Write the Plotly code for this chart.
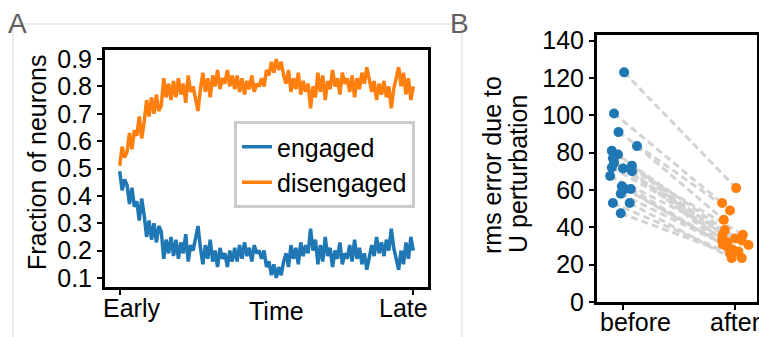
import plotly.graph_objects as go

# ---------------- Panel A data ----------------
engaged = [
    0.49, 0.42, 0.46,
    0.44, 0.37, 0.43, 0.36,
    0.38, 0.31, 0.39,
    0.33, 0.25, 0.31, 0.24, 0.30, 0.23, 0.29,
    0.27, 0.17, 0.24, 0.19,
    0.25, 0.18, 0.24, 0.17, 0.23, 0.19, 0.26, 0.16, 0.22, 0.20, 0.25, 0.29,
    0.21, 0.15, 0.22, 0.17, 0.24, 0.16, 0.20, 0.14, 0.21, 0.17, 0.19, 0.14, 0.20, 0.16,
    0.21, 0.16, 0.22, 0.17, 0.23, 0.18, 0.21, 0.16, 0.22, 0.19, 0.20,
    0.17, 0.20, 0.14, 0.16, 0.11, 0.15, 0.10, 0.14, 0.11, 0.16,
    0.19, 0.14, 0.22, 0.17, 0.21, 0.15, 0.23, 0.18, 0.22, 0.19, 0.28, 0.20,
    0.24, 0.15, 0.22, 0.16, 0.25, 0.18, 0.21, 0.14, 0.20, 0.17, 0.23, 0.15, 0.19, 0.17,
    0.22, 0.16, 0.24, 0.17, 0.21, 0.15, 0.19, 0.13, 0.17,
    0.22, 0.18, 0.25, 0.19, 0.23, 0.18, 0.24, 0.20, 0.28, 0.21,
    0.17, 0.13, 0.20, 0.15, 0.23, 0.17, 0.25, 0.20,
]
disengaged = [
    0.51, 0.58, 0.54,
    0.56, 0.63, 0.57, 0.64,
    0.62, 0.69, 0.61,
    0.67, 0.75, 0.69, 0.76, 0.70, 0.77, 0.71,
    0.73, 0.83, 0.76, 0.81,
    0.75, 0.82, 0.76, 0.83, 0.77, 0.81, 0.74, 0.84, 0.78, 0.80, 0.75, 0.71,
    0.79, 0.85, 0.78, 0.83, 0.76, 0.84, 0.80, 0.86, 0.79, 0.83, 0.81, 0.86, 0.80, 0.84,
    0.79, 0.84, 0.78, 0.83, 0.77, 0.82, 0.79, 0.84, 0.78, 0.81, 0.80,
    0.83, 0.80, 0.86, 0.84, 0.89, 0.85, 0.90, 0.86, 0.89, 0.84,
    0.81, 0.86, 0.78, 0.83, 0.79, 0.85, 0.77, 0.82, 0.78, 0.81, 0.72, 0.80,
    0.76, 0.85, 0.78, 0.84, 0.75, 0.82, 0.79, 0.86, 0.80, 0.83, 0.77, 0.85, 0.81, 0.83,
    0.78, 0.84, 0.76, 0.83, 0.79, 0.85, 0.81, 0.87, 0.83,
    0.78, 0.82, 0.75, 0.81, 0.77, 0.82, 0.76, 0.80, 0.72, 0.79,
    0.83, 0.87, 0.80, 0.85, 0.77, 0.83, 0.75, 0.80,
]
time_idx = list(range(len(engaged)))
a_ytick_vals = [0.1, 0.2, 0.3, 0.4, 0.5, 0.6, 0.7, 0.8, 0.9]
a_xlabels = ["Early", "Time", "Late"]
a_xlabel_pos = [5, 64, 116]

# ---------------- Panel B data ----------------
before_vals = [123, 101, 91, 83.5, 81, 79, 77, 74.5, 73, 72,
               71.5, 70, 67.5, 62, 60.5, 60.5, 58, 53, 53, 47.5]
before_x = [0.01, -0.08, -0.04, 0.125, -0.10, -0.045, -0.09, -0.08, 0.08, -0.10,
            0.0, 0.08, -0.115, -0.01, 0.02, 0.07, -0.02, -0.09, 0.06, -0.02]
after_vals = [61, 53, 49, 44, 38.5, 36, 36, 34, 33, 33,
              32, 31, 30.5, 30, 29.5, 28, 27, 26, 23.5, 23.5]
after_x = [1.01, 0.885, 0.955, 0.90, 0.91, 0.89, 1.07, 1.00, 0.885, 1.06,
           0.93, 0.89, 1.12, 0.92, 0.94, 0.98, 1.03, 0.955, 0.97, 1.06]
b_ytick_vals = [0, 20, 40, 60, 80, 100, 120, 140]
b_xlabels = ["before", "after"]
b_xlabel_pos = [0.116, 1.0]

BLUE = "#1f77b4"
ORANGE = "#ff7f0e"
FONT = "Liberation Sans, Arial, sans-serif"
W, H = 759, 337


def px(x):
    return x / W


def py(y):
    return 1 - y / H


fig = go.Figure()

fig.add_trace(go.Scatter(x=time_idx, y=engaged, mode="lines", name="engaged",
                         line=dict(color=BLUE, width=3.5), xaxis="x", yaxis="y"))
fig.add_trace(go.Scatter(x=time_idx, y=disengaged, mode="lines", name="disengaged",
                         line=dict(color=ORANGE, width=3.5), xaxis="x", yaxis="y"))

# paired dashed lines
lx, ly = [], []
for bx, bv, ax_, av in zip(before_x, before_vals, after_x, after_vals):
    lx += [bx, ax_, None]
    ly += [bv, av, None]
fig.add_trace(go.Scatter(x=lx, y=ly, mode="lines", showlegend=False,
                         line=dict(color="#d3d3d3", width=3, dash="7px,4px"),
                         xaxis="x2", yaxis="y2"))
fig.add_trace(go.Scatter(x=before_x, y=before_vals, mode="markers", showlegend=False,
                         marker=dict(color=BLUE, size=10), xaxis="x2", yaxis="y2"))
fig.add_trace(go.Scatter(x=after_x, y=after_vals, mode="markers", showlegend=False,
                         marker=dict(color=ORANGE, size=10), xaxis="x2", yaxis="y2"))

axis_common = dict(showline=True, linecolor="black", linewidth=3, mirror=True,
                   showgrid=False, zeroline=False, ticks="outside", ticklen=5,
                   tickwidth=2, tickcolor="black", automargin=False,
                   tickfont=dict(family=FONT, size=25, color="black"))

n = len(engaged) - 1
fig.update_layout(
    width=W, height=H,
    margin=dict(l=0, r=0, t=0, b=0, pad=0, autoexpand=False),
    paper_bgcolor="white", plot_bgcolor="white",
    font=dict(family=FONT, size=25, color="black"),
    xaxis=dict(domain=[px(105), px(428)], range=[-0.05 * n, 1.05 * n],
               tickvals=[0, n], ticktext=["", ""], anchor="y", **axis_common),
    yaxis=dict(domain=[py(287), py(50)], range=[0.067, 0.933],
               tickvals=a_ytick_vals, tickformat=".1f", anchor="x", **axis_common),
    xaxis2=dict(domain=[px(597), px(757)], range=[-0.232, 1.196],
                tickvals=[0, 1], ticktext=["", ""], anchor="y2", **axis_common),
    yaxis2=dict(domain=[py(302), py(35)], range=[0, 143],
                tickvals=b_ytick_vals, anchor="x2", **axis_common),
    legend=dict(x=px(234), y=py(121), xanchor="left", yanchor="top",
                bgcolor="white", bordercolor="#cccccc", borderwidth=3,
                font=dict(family=FONT, size=25, color="black")),
    showlegend=True,
)


def ann(x, y, text, xref="paper", size=25, color="black", angle=0):
    return dict(x=x, y=y, xref=xref, yref="paper", text=text, showarrow=False,
                xanchor="center", yanchor="middle", textangle=angle,
                font=dict(family=FONT, size=size, color=color))


annotations = []
for lab, pos in zip(a_xlabels, a_xlabel_pos):
    annotations.append(ann(pos, py(308 if lab != "Time" else 311), lab, xref="x"))
for lab, pos in zip(b_xlabels, b_xlabel_pos):
    annotations.append(ann(pos, py(322), lab, xref="x2"))
annotations += [
    ann(px(37), py(163), "Fraction of neurons", angle=-90),
    ann(px(492), py(165), "rms error due to", angle=-90),
    ann(px(518), py(174), "U perturbation", angle=-90),
    ann(px(17.5), py(23), "A", size=28, color="#606060"),
    ann(px(459.5), py(23), "B", size=28, color="#606060"),
]
fig.update_layout(annotations=annotations)

frame = dict(type="line", xref="paper", yref="paper", layer="below",
             line=dict(color="#d9d9d9", width=1))
fig.update_layout(shapes=[
    dict(frame, x0=px(13), x1=px(462), y0=py(24), y1=py(24)),
    dict(frame, x0=px(13), x1=px(13), y0=py(24), y1=0),
    dict(frame, x0=px(462), x1=px(462), y0=py(24), y1=0),
])

fig.write_html("out.html",
               config={"displayModeBar": False},
               post_script="document.body.style.margin='0';document.body.style.padding='0';")
